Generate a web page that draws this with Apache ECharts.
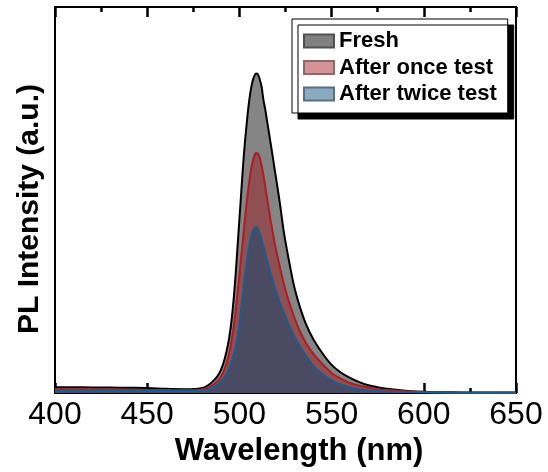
<!DOCTYPE html>
<html>
<head>
<meta charset="utf-8">
<script src="https://cdn.jsdelivr.net/npm/echarts@6/dist/echarts.min.js"></script>
<style>html,body{margin:0;padding:0;background:#fff}#c{width:548px;height:472px}</style>
</head>
<body>
<div id="c"></div>
<script>
var wavelengths = [400,410,420,430,440,450,460,470,475,480,483,486,488,490,492,494,495,496,497,498,499,500,501,502,503,504,505,506,507,508,509,510,511,512,513,514,515,516,517,518,519,520,522,524,526,528,530,533,536,540,545,550,555,560,565,570,575,580,590,600,610,620,630,640,650];
var fresh = [1.5,1.5,1.45,1.4,1.35,1.3,1.1,1.0,1.0,1.3,2.0,3.2,4.3,6.0,8.8,13,16,20,25,31,38,45,52,59,65,70,74.5,78,80.5,82,82.8,82.6,81.3,79.5,76,73.5,70.5,67.5,64.5,61.5,58.3,55.3,49,42,36.5,31.5,27,22,18,14,10.3,7.3,5.3,3.9,2.8,2.0,1.5,1.1,0.6,0.3,0.2,0.15,0.1,0.1,0.1];
var onceTest = [1.0,1.0,0.95,0.9,0.85,0.8,0.75,0.7,0.7,1.0,1.4,2.2,3.0,4.2,6.2,9.3,11.5,14.2,17.5,21.5,26,30.5,35.5,40,45,49.5,53.5,57,59.5,61.3,62.2,62,61,59,56.5,53.5,50.5,47.5,44.5,41.8,39.2,36.8,32.5,28.5,25,22,19.3,15.8,13,10.2,7.5,5.2,3.7,2.6,1.9,1.4,1.0,0.75,0.45,0.25,0.15,0.1,0.08,0.06,0.05];
var twiceTest = [0.5,0.5,0.5,0.5,0.5,0.5,0.5,0.5,0.5,0.7,1.0,1.6,2.1,3.0,4.2,6.0,7.2,8.6,10.2,12.2,14.6,17.8,22.0,26.2,30.3,34,37.2,39.8,41.6,42.6,43,42.6,41.4,39.8,38,36.2,34.4,32.7,31,29.4,27.8,26.3,23.5,21,18.6,16.4,14.5,11.9,9.7,7.1,4.9,3.3,2.2,1.5,1.0,0.7,0.5,0.4,0.3,0.2,0.1,0.05,0.05,0.05,0.05];
var seriesNames = ['Fresh','After once test','After twice test'];
var xTicks = [400,450,500,550,600,650];

function pairs(vals){ return wavelengths.map(function(w,i){ return [w, vals[i]]; }); }
var FONT = "'Liberation Sans', Arial, Helvetica, sans-serif";
var chart = echarts.init(document.getElementById('c'), null, {renderer:'canvas'});
var XMIN = xTicks[0], XMAX = xTicks[xTicks.length-1];
function tickAxis(pos, interval, len, showLine){
  return {
    type:'value', min:XMIN, max:XMAX, interval:interval, position:pos,
    axisLine:{show:showLine,onZero:false,lineStyle:{color:'#000',width:2}},
    axisTick:{show:true,inside:true,length:len,lineStyle:{color:'#000',width:2.5}},
    splitLine:{show:false}, axisLabel:{show:false}
  };
}
var bottomAxis = tickAxis('bottom', 50, 10, true);
bottomAxis.axisLabel = {show:true,color:'#000',fontSize:32,fontFamily:FONT,margin:6};
bottomAxis.name = 'Wavelength (nm)';
bottomAxis.nameLocation = 'middle';
bottomAxis.nameGap = 34;
bottomAxis.nameTextStyle = {color:'#000',fontSize:31,fontWeight:'bold',fontFamily:FONT,padding:[0,0,0,27]};
var option = {
  animation:false,
  backgroundColor:'#fff',
  grid:{left:55,right:32,top:7,bottom:79},
  xAxis:[bottomAxis, tickAxis('top', 50, 10, true), tickAxis('bottom', 25, 5, false), tickAxis('top', 25, 5, false)],
  yAxis:[{
    type:'value', min:0, max:100, position:'left',
    axisLine:{show:true,onZero:false,lineStyle:{color:'#000',width:2}},
    axisTick:{show:false}, axisLabel:{show:false}, splitLine:{show:false},
    name:'PL Intensity (a.u.)', nameLocation:'middle', nameGap:10,
    nameTextStyle:{color:'#000',fontSize:30,fontWeight:'bold',fontFamily:FONT,padding:[0,18,0,0]}
  },{
    type:'value', min:0, max:100, position:'right',
    axisLine:{show:true,onZero:false,lineStyle:{color:'#000',width:2}},
    axisTick:{show:false}, axisLabel:{show:false}, splitLine:{show:false}
  }],
  legend:{
    orient:'vertical', left:292, top:19, itemWidth:30, itemHeight:13, itemGap:4.5,
    padding:[11,11,8,11], backgroundColor:'#fff', borderColor:'#000', borderWidth:1,
    shadowColor:'#000', shadowBlur:0, shadowOffsetX:6, shadowOffsetY:6,
    icon:'rect',
    textStyle:{fontSize:22,fontWeight:'bold',color:'#000',fontFamily:FONT,lineHeight:22},
    data:seriesNames
  },
  series:[
    {name:seriesNames[0], type:'line', data:pairs(fresh), showSymbol:false, smooth:0.3, xAxisIndex:0, yAxisIndex:0,
     itemStyle:{color:'#808080',borderColor:'#505050',borderWidth:1},
     lineStyle:{color:'#000',width:2}, areaStyle:{color:'#858585',opacity:1}},
    {name:seriesNames[1], type:'line', data:pairs(onceTest), showSymbol:false, smooth:0.3, xAxisIndex:0, yAxisIndex:0,
     itemStyle:{color:'#d49495',borderColor:'#8a6a6a',borderWidth:1},
     lineStyle:{color:'#b01c22',width:2}, areaStyle:{color:'#8e5052',opacity:1}},
    {name:seriesNames[2], type:'line', data:pairs(twiceTest), showSymbol:false, smooth:0.3, xAxisIndex:0, yAxisIndex:0,
     itemStyle:{color:'#8aaac2',borderColor:'#5a6e80',borderWidth:1},
     lineStyle:{color:'#1d5d8e',width:2}, areaStyle:{color:'#4b4a63',opacity:1}}
  ]
};
chart.setOption(option);
</script>
</body>
</html>
